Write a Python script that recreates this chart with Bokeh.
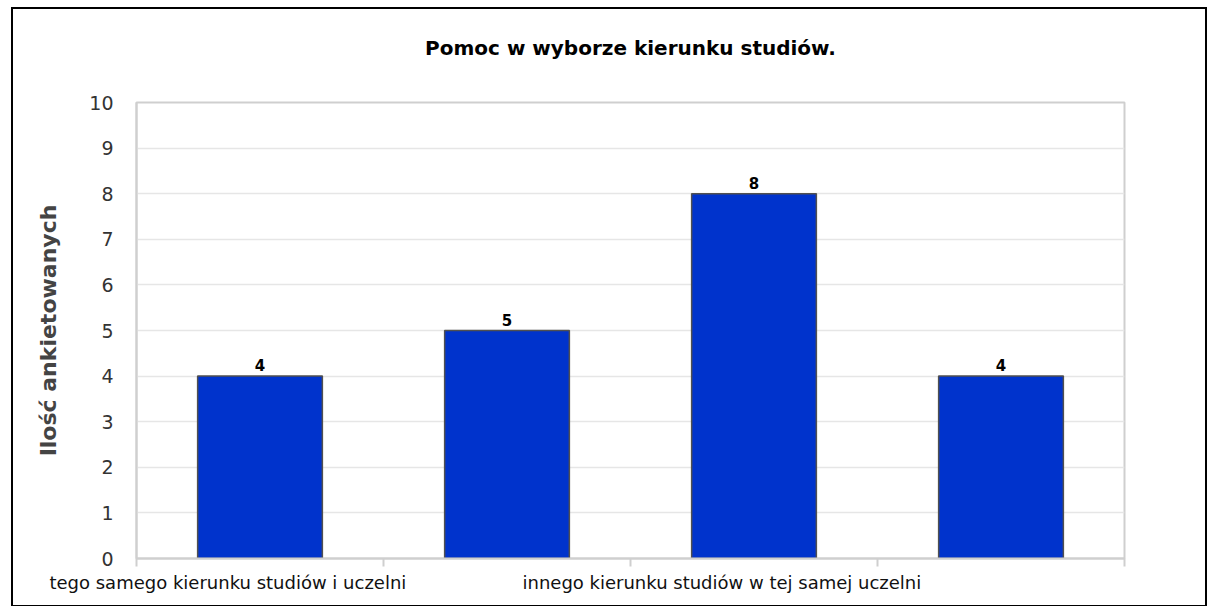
from bokeh.plotting import figure
from bokeh.models import ColumnDataSource, FixedTicker, Range1d, LabelSet, Title
from bokeh.core.properties import value
from bokeh.embed import file_html
from bokeh.resources import INLINE

# ---- data ----
categories = [
    "tego samego kierunku studiów i uczelni",
    "tego samego kierunku studiów na innej uczelni",
    "innego kierunku studiów w tej samej uczelni",
    "innego kierunku studiów na innej uczelni",
]
counts = [4, 5, 8, 4]
shown_labels = [0, 2]  # only these category labels are visible in the chart
y_ticks = list(range(0, 11))
title_text = "Pomoc w wyborze kierunku studiów."
y_label = "Ilość ankietowanych"

# ---- build ----
centers = [i + 0.5 for i in range(len(categories))]
src = ColumnDataSource(dict(x=centers, top=counts, lab=[str(c) for c in counts]))

p = figure(width=1196, height=600, output_backend="svg", toolbar_location=None,
           x_range=Range1d(0, len(categories)), y_range=Range1d(0, 10),
           min_border_left=123, min_border_right=85, min_border_top=92, min_border_bottom=51)
p.styles = {"border": "2px solid black", "margin-left": "11px", "margin-top": "7px"}

p.title.text = title_text
p.title.text_font = "DejaVu Sans"
p.title.text_font_size = "20px"
p.title.text_font_style = "bold"
p.title.text_color = "#000000"
p.title.align = "center"
p.title.standoff = 48

# empty spacer between the title and the plot frame
p.add_layout(Title(text=" ", text_font_size="10px", standoff=6), "above")

p.vbar(x="x", top="top", width=0.505, source=src, fill_color="#0033cc",
       line_color="#505050", line_width=1.5)

p.add_layout(LabelSet(x="x", y="top", text="lab", source=src, y_offset=5,
                      text_align="center", text_baseline="bottom",
                      text_font=value("DejaVu Sans"), text_font_style="bold",
                      text_font_size="15px", text_color="#000000"))

# grid
p.xgrid.grid_line_color = None
p.ygrid.ticker = FixedTicker(ticks=y_ticks)
p.ygrid.grid_line_color = "#e6e6e6"
p.ygrid.grid_line_width = 1.5

p.outline_line_color = "#cfcfcf"
p.outline_line_width = 2

# y axis
p.yaxis.ticker = FixedTicker(ticks=y_ticks)
p.yaxis.axis_line_color = "#cfcfcf"
p.yaxis.axis_line_width = 2
p.yaxis.major_tick_line_color = None
p.yaxis.minor_tick_line_color = None
p.yaxis.major_label_standoff = 17
p.yaxis.major_label_text_font = "DejaVu Sans"
p.yaxis.major_label_text_font_size = "19px"
p.yaxis.major_label_text_color = "#333333"
p.yaxis.axis_label = y_label
p.yaxis.axis_label_text_font = "DejaVu Sans"
p.yaxis.axis_label_text_font_style = "bold"
p.yaxis.axis_label_text_font_size = "22px"
p.yaxis.axis_label_text_color = "#444444"
p.yaxis.axis_label_standoff = 25

# x axis: boundary ticks as minor ticks, labels at (shifted) category centres
label_pos = [centers[i] - 0.13 for i in shown_labels]
p.xaxis.ticker = FixedTicker(ticks=label_pos, minor_ticks=list(range(len(categories) + 1)))
p.xaxis.major_label_overrides = {pos: categories[i] for pos, i in zip(label_pos, shown_labels)}
p.xaxis.major_tick_line_color = None
p.xaxis.minor_tick_line_color = "#cfcfcf"
p.xaxis.minor_tick_line_width = 2
p.xaxis.minor_tick_out = 8
p.xaxis.minor_tick_in = 0
p.xaxis.axis_line_color = "#cfcfcf"
p.xaxis.axis_line_width = 2
p.xaxis.major_label_standoff = 5
p.xaxis.major_label_text_font = "DejaVu Sans"
p.xaxis.major_label_text_font_size = "18px"
p.xaxis.major_label_text_color = "#111111"

open("out.html", "w").write(file_html(p, INLINE))
